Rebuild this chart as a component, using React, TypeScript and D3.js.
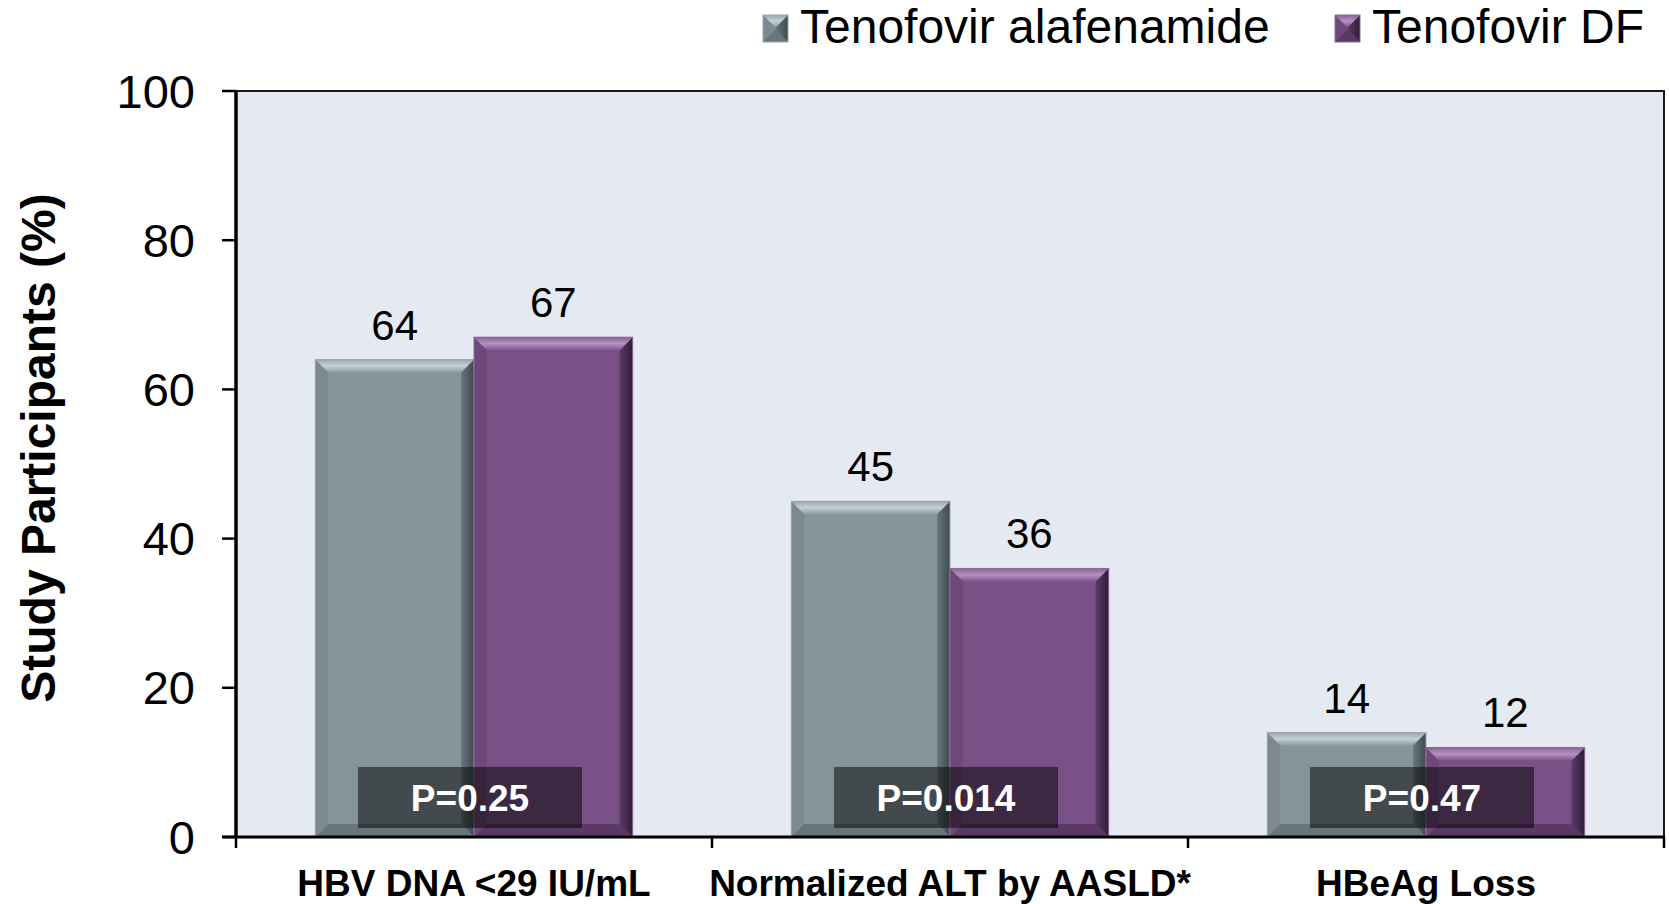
import React, { useEffect } from 'react';
import * as d3 from 'd3';

const categories = ['HBV DNA <29 IU/mL', 'Normalized ALT by AASLD*', 'HBeAg Loss'];
const seriesNames = ['Tenofovir alafenamide', 'Tenofovir DF'];
const tafValues = [64, 45, 14];
const tdfValues = [67, 36, 12];
const pValues = ['P=0.25', 'P=0.014', 'P=0.47'];
const yTicks = [0, 20, 40, 60, 80, 100];

const W = 1669;
const H = 904;
const plot = { left: 236, right: 1664, top: 91, bottom: 837 };
const FONT = '"Liberation Sans", Arial, Helvetica, sans-serif';

const palettes = [
  {
    face: '#86959b',
    topA: '#9aa8ad',
    topB: '#c3d0d4',
    topC: '#8c9aa0',
    left: '#7c8a90',
    rightA: '#6a777c',
    rightB: '#3f494d',
    bottom: '#68757a',
    edge: '#9ba6ab',
  },
  {
    face: '#7a5187',
    topA: '#8a6198',
    topB: '#b492c0',
    topC: '#7f5690',
    left: '#6e4879',
    rightA: '#5a3a66',
    rightB: '#2f1d36',
    bottom: '#5a3a65',
    edge: '#8a6b96',
  },
];

const Bar = ({ x, y, w, h, s, id }: any) => {
  const p = palettes[s];
  const b = Math.min(13, h / 2, w / 2);
  const pts = (a: number[][]) => a.map((q) => q.join(',')).join(' ');
  return (
    <g>
      <defs>
        <linearGradient id={`top${id}`} x1="0" y1="0" x2="0" y2="1">
          <stop offset="0" stopColor={p.topA} />
          <stop offset="0.5" stopColor={p.topB} />
          <stop offset="1" stopColor={p.topC} />
        </linearGradient>
        <linearGradient id={`right${id}`} x1="0" y1="0" x2="1" y2="0">
          <stop offset="0" stopColor={p.rightA} />
          <stop offset="1" stopColor={p.rightB} />
        </linearGradient>
      </defs>
      <rect x={x} y={y} width={w} height={h} fill={p.face} />
      <polygon points={pts([[x, y], [x + b, y + b], [x + b, y + h - b], [x, y + h]])} fill={p.left} />
      <polygon
        points={pts([[x + w, y], [x + w, y + h], [x + w - b, y + h - b], [x + w - b, y + b]])}
        fill={`url(#right${id})`}
      />
      <polygon
        points={pts([[x, y + h], [x + b, y + h - b], [x + w - b, y + h - b], [x + w, y + h]])}
        fill={p.bottom}
      />
      <polygon
        points={pts([[x, y], [x + w, y], [x + w - b, y + b], [x + b, y + b]])}
        fill={`url(#top${id})`}
      />
      <rect x={x} y={y} width={w} height={h} fill="none" stroke={p.edge} strokeWidth={1} />
    </g>
  );
};

const App = () => {
  useEffect(() => {
    document.body.style.margin = '0';
  }, []);

  const y = d3.scaleLinear().domain([0, 100]).range([plot.bottom, plot.top]);
  const x0 = d3.scaleBand().domain(categories).range([plot.left, plot.right]).padding(0);
  const x1 = d3
    .scaleBand()
    .domain(seriesNames)
    .range([0, x0.bandwidth()])
    .paddingInner(0)
    .paddingOuter(0.5);

  const bounds = [plot.left, ...categories.map((c) => (x0(c) as number) + x0.bandwidth())];

  return (
    <svg width={W} height={H} style={{ display: 'block', background: '#fff' }} fontFamily={FONT}>
      {/* plot background */}
      <rect
        x={plot.left}
        y={plot.top}
        width={plot.right - plot.left}
        height={plot.bottom - plot.top}
        fill="#e5e9f1"
      />
      {/* top + right frame */}
      <path
        d={`M${plot.left},${plot.top}H${plot.right}V${plot.bottom}`}
        fill="none"
        stroke="#1a1a1a"
        strokeWidth={2}
      />

      {/* bars */}
      {categories.map((c, i) => {
        const vals = [tafValues[i], tdfValues[i]];
        return (
          <g key={c}>
            {seriesNames.map((sn, s) => {
              const bx = (x0(c) as number) + (x1(sn) as number);
              const by = y(vals[s]);
              return (
                <Bar key={sn} x={bx} y={by} w={x1.bandwidth()} h={plot.bottom - by} s={s} id={`${i}-${s}`} />
              );
            })}
            {seriesNames.map((sn, s) => (
              <text
                key={sn + 'l'}
                x={(x0(c) as number) + (x1(sn) as number) + x1.bandwidth() / 2}
                y={y(vals[s]) - 20}
                textAnchor="middle"
                fontSize={42}
                fill="#000"
              >
                {vals[s]}
              </text>
            ))}
          </g>
        );
      })}

      {/* P value boxes */}
      {categories.map((c, i) => {
        const cx = (x0(c) as number) + x0.bandwidth() / 2 - 4;
        return (
          <g key={c + 'p'}>
            <rect x={cx - 112} y={plot.bottom - 70} width={224} height={61} fill="#000" fillOpacity={0.5} />
            <text
              x={cx}
              y={plot.bottom - 39}
              textAnchor="middle"
              dominantBaseline="central"
              fontSize={37}
              fontWeight="bold"
              fill="#fff"
            >
              {pValues[i]}
            </text>
          </g>
        );
      })}

      {/* y axis */}
      <line x1={plot.left} x2={plot.left} y1={plot.top} y2={plot.bottom} stroke="#000" strokeWidth={3.5} />
      {yTicks.map((t) => (
        <g key={t}>
          <line x1={plot.left - 14} x2={plot.left} y1={y(t)} y2={y(t)} stroke="#000" strokeWidth={2.5} />
          <text x={plot.left - 41} y={y(t)} textAnchor="end" dominantBaseline="central" fontSize={47} fill="#000">
            {t}
          </text>
        </g>
      ))}

      {/* x axis */}
      <line x1={plot.left - 14} x2={plot.right + 1} y1={plot.bottom} y2={plot.bottom} stroke="#000" strokeWidth={3} />
      {bounds.map((bx, i) => (
        <line key={i} x1={bx} x2={bx} y1={plot.bottom} y2={plot.bottom + 11} stroke="#000" strokeWidth={2.5} />
      ))}
      {categories.map((c) => (
        <text
          key={c + 'x'}
          x={(x0(c) as number) + x0.bandwidth() / 2}
          y={896}
          textAnchor="middle"
          fontSize={37}
          fontWeight="bold"
          fill="#000"
        >
          {c}
        </text>
      ))}

      {/* y axis title */}
      <text
        transform={`translate(38,448) rotate(-90)`}
        textAnchor="middle"
        dominantBaseline="central"
        fontSize={48}
        fontWeight="bold"
        fill="#000"
      >
        Study Participants (%)
      </text>

      {/* legend */}
      {seriesNames.map((sn, s) => {
        const lx = [763, 1335][s];
        return (
          <g key={sn + 'leg'}>
            <Bar x={lx} y={15} w={25} h={27} s={s} id={`leg${s}`} />
            <text x={lx + 37} y={43} fontSize={48} fill="#000">
              {sn}
            </text>
          </g>
        );
      })}
    </svg>
  );
};

export default App;
